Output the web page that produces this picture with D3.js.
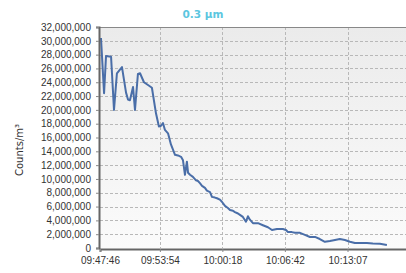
<!DOCTYPE html>
<html><head><meta charset="utf-8">
<script src="https://cdn.jsdelivr.net/npm/d3@7"></script>
<style>
html,body{margin:0;padding:0;background:#fff;overflow:hidden;}
svg{display:block;font-family:"DejaVu Sans",Verdana,sans-serif;}
</style></head>
<body>
<svg id="chart" width="406" height="273"></svg>
<script>
const title = "0.3 μm";
const yLabel = "Counts/m³";
const times = ["09:47:52","09:48:11","09:48:23","09:48:54","09:49:12","09:49:30","09:50:01","09:50:26","09:50:38","09:50:50",
"09:51:09","09:51:21","09:51:39","09:51:52","09:52:16","09:52:41","09:53:05","09:53:30","09:53:48","09:54:01",
"09:54:13","09:54:25","09:54:44","09:55:02","09:55:27","09:55:45","09:56:04","09:56:16","09:56:28","09:56:40",
"09:56:47","09:56:59","09:57:17","09:57:36","09:57:48","09:58:00","09:58:13","09:58:31","09:58:43","09:59:02",
"09:59:14","09:59:32","09:59:45","10:00:03","10:00:15","10:00:34","10:00:52","10:01:05","10:01:23","10:01:35",
"10:01:54","10:02:06","10:02:24","10:02:43","10:02:55","10:03:07","10:03:26","10:03:57","10:04:27","10:04:58",
"10:05:23","10:05:53","10:06:30","10:06:49","10:07:01","10:07:25","10:07:44","10:08:15","10:08:45","10:09:16",
"10:09:47","10:10:17","10:10:48","10:11:19","10:11:50","10:12:20","10:12:51","10:13:22","10:13:52","10:14:23",
"10:15:06","10:15:43","10:16:26","10:17:09"];
const counts = [30400000,22400000,27800000,27700000,20000000,25300000,26200000,22500000,21500000,21400000,
23300000,20000000,25200000,25300000,24000000,23600000,23200000,19500000,17600000,17700000,
18100000,17100000,16600000,15000000,13500000,13400000,13200000,12700000,10600000,12500000,
10900000,10600000,10300000,9800000,9700000,9400000,9000000,8700000,8300000,8100000,
7400000,7300000,7200000,7000000,6700000,6100000,5800000,5500000,5400000,5200000,
5000000,4800000,4500000,3800000,4600000,4100000,3600000,3600000,3300000,3000000,
2600000,2750000,2750000,2600000,2300000,2300000,2200000,2200000,1900000,1600000,
1600000,1300000,900000,1000000,1150000,1300000,1150000,900000,720000,720000,
720000,650000,600000,450000];
const xTickLabels = ["09:47:46","09:53:54","10:00:18","10:06:42","10:13:07"];
const yTicks = [0,2000000,4000000,6000000,8000000,10000000,12000000,14000000,16000000,18000000,20000000,22000000,24000000,26000000,28000000,30000000,32000000];
const xStart = "09:47:46", xEnd = "10:19:31";

const parse = d3.timeParse("%H:%M:%S");
const fmt = d3.timeFormat("%H:%M:%S");
const data = times.map((t,i)=>({t:parse(t), v:counts[i]}));

const svg = d3.select("#chart");
const m = {left:100, top:27, right:-4, bottom:25};
const W = 406, H = 273;
const x = d3.scaleTime().domain([parse(xStart), parse(xEnd)]).range([m.left, W - m.right]);
const y = d3.scaleLinear().domain([0, 32000000]).range([248, m.top]);

const defs = svg.append("defs");
const g = defs.append("linearGradient").attr("id","bg").attr("x1",0).attr("y1",0).attr("x2",0).attr("y2",1);
g.append("stop").attr("offset","0%").attr("stop-color","#ebebeb");
g.append("stop").attr("offset","100%").attr("stop-color","#fbfbfb");

svg.append("rect").attr("x",m.left).attr("y",y(32000000)).attr("width",W-m.right-m.left).attr("height",y(0)-y(32000000)).attr("fill","url(#bg)");

// horizontal grid
svg.append("g").selectAll("line").data(yTicks.slice(1)).join("line")
  .attr("x1",m.left).attr("x2",W-m.right).attr("y1",d=>Math.round(y(d))+0.5).attr("y2",d=>Math.round(y(d))+0.5)
  .attr("stroke","#b8b8b8").attr("stroke-dasharray","3,2").attr("stroke-width",1);
// vertical grid
const xTickVals = xTickLabels.map(parse);
svg.append("g").selectAll("line").data(xTickVals.slice(1)).join("line")
  .attr("x1",d=>Math.round(x(d))+0.5).attr("x2",d=>Math.round(x(d))+0.5).attr("y1",y(32000000)).attr("y2",y(0))
  .attr("stroke","#b8b8b8").attr("stroke-dasharray","3,2").attr("stroke-width",1);

// top border
svg.append("line").attr("x1",m.left).attr("x2",W).attr("y1",y(32000000)+0.5).attr("y2",y(32000000)+0.5).attr("stroke","#888").attr("stroke-width",1);

// line
svg.append("path").datum(data)
  .attr("d", d3.line().x(d=>x(d.t)).y(d=>y(d.v)))
  .attr("fill","none").attr("stroke","#4a6ea8").attr("stroke-width",2).attr("stroke-linejoin","round");

// y axis
const yAxis = d3.axisLeft(y).tickValues(yTicks).tickSize(3).tickPadding(5).tickFormat(d3.format(","));
const ya = svg.append("g").attr("transform",`translate(${m.left-1},0)`).call(yAxis);
ya.select(".domain").attr("stroke","#666").attr("stroke-width",2);
ya.selectAll(".tick line").attr("stroke","#888");
ya.selectAll("text").attr("font-size",10).attr("fill","#333");

// x axis
const xAxis = d3.axisBottom(x).tickValues(xTickVals).tickSize(3).tickPadding(5).tickFormat(fmt);
const xa = svg.append("g").attr("transform",`translate(0,${y(0)+1})`).call(xAxis);
xa.select(".domain").attr("stroke","#666").attr("stroke-width",2);
xa.selectAll(".tick line").attr("stroke","#888");
xa.selectAll("text").attr("font-size",10).attr("fill","#333");

// title
svg.append("text").attr("x",203).attr("y",17.5).attr("text-anchor","middle")
  .attr("font-size",10.5).attr("font-weight","bold").attr("fill","#5cc6df").text(title);

// y label
svg.append("text").attr("transform","translate(23,150) rotate(-90)").attr("text-anchor","middle")
  .attr("font-size",10).attr("fill","#333").text(yLabel);
</script>
</body></html>
